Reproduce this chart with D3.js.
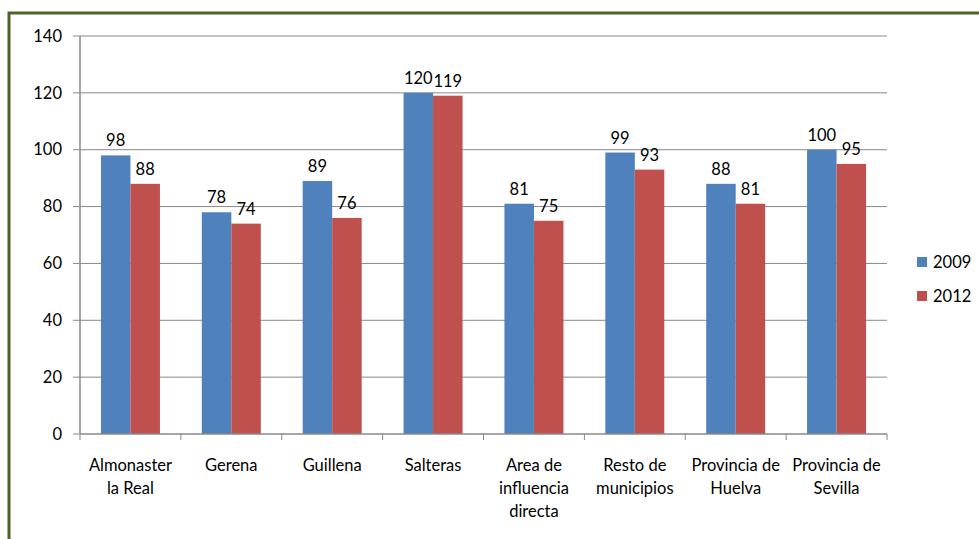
<!DOCTYPE html>
<html>
<head>
<meta charset="utf-8">
<script src="https://cdn.jsdelivr.net/npm/d3@7"></script>
<style>
  body { margin: 0; background: #fff; }
  svg { display: block; font-family: Lato, "Open Sans", sans-serif; }
</style>
</head>
<body>
<svg id="chart" width="979" height="539"></svg>
<script>
const categories = [
  ["Almonaster", "la Real"],
  ["Gerena"],
  ["Guillena"],
  ["Salteras"],
  ["Area de", "influencia", "directa"],
  ["Resto de", "municipios"],
  ["Provincia de", "Huelva"],
  ["Provincia de", "Sevilla"]
];
const series = ["2009", "2012"];
const values2009 = [98, 78, 89, 120, 81, 99, 88, 100];
const values2012 = [88, 74, 76, 119, 75, 93, 81, 95];
const yTicks = [0, 20, 40, 60, 80, 100, 120, 140];
const colors = ["#4F81BD", "#C0504D"];

const svg = d3.select("#chart");
const margin = {left: 80, right: 92, top: 36, bottom: 105};
const w = 979 - margin.left - margin.right;
const h = 539 - margin.top - margin.bottom;
const fs = 16.5;

// frame
svg.append("rect")
  .attr("x", 9).attr("y", 13)
  .attr("width", 985).attr("height", 540)
  .attr("fill", "none").attr("stroke", "#4F6228").attr("stroke-width", 3);

const g = svg.append("g").attr("transform", `translate(${margin.left},${margin.top})`);

const x = d3.scaleBand().domain(d3.range(categories.length)).range([0, w]);
const x1 = d3.scaleBand().domain(series).range([0, x.bandwidth()]).paddingInner(0).paddingOuter(0.71);
const y = d3.scaleLinear().domain([0, 140]).range([h, 0]);

// grid
g.selectAll(".grid").data(yTicks.slice(1)).join("line")
  .attr("x1", 0).attr("x2", w)
  .attr("y1", d => y(d)).attr("y2", d => y(d))
  .attr("stroke", "#888").attr("stroke-width", 1);

// y axis
g.append("line").attr("x1", 0).attr("x2", 0).attr("y1", 0).attr("y2", h)
  .attr("stroke", "#888").attr("stroke-width", 1.5);
g.selectAll(".ytick").data(yTicks).join("line")
  .attr("x1", -7).attr("x2", 0)
  .attr("y1", d => y(d)).attr("y2", d => y(d))
  .attr("stroke", "#888");
g.selectAll(".ylab").data(yTicks).join("text")
  .attr("x", -18).attr("y", d => y(d)).attr("dy", "0.35em")
  .attr("text-anchor", "end").attr("font-size", fs).attr("fill", "#000")
  .text(d => d);

// bars
const data = categories.map((c, i) => ({i, vals: [values2009[i], values2012[i]]}));
const grp = g.selectAll(".cat").data(data).join("g")
  .attr("transform", d => `translate(${x(d.i)},0)`);
grp.selectAll("rect").data(d => d.vals.map((v, k) => ({v, k}))).join("rect")
  .attr("x", d => x1(series[d.k]))
  .attr("width", x1.bandwidth())
  .attr("y", d => y(d.v))
  .attr("height", d => h - y(d.v))
  .attr("fill", d => colors[d.k]);
grp.selectAll(".val").data(d => d.vals.map((v, k) => ({v, k}))).join("text")
  .attr("x", d => x1(series[d.k]) + x1.bandwidth() / 2)
  .attr("y", d => y(d.v) - 9)
  .attr("text-anchor", "middle").attr("font-size", fs).attr("fill", "#000")
  .text(d => d.v);

// x axis
g.append("line").attr("x1", 0).attr("x2", w).attr("y1", h).attr("y2", h)
  .attr("stroke", "#888").attr("stroke-width", 1.5);
g.selectAll(".xtick").data(d3.range(categories.length + 1)).join("line")
  .attr("x1", d => d * x.bandwidth()).attr("x2", d => d * x.bandwidth())
  .attr("y1", h).attr("y2", h + 6)
  .attr("stroke", "#888");
const xl = g.selectAll(".xlab").data(categories).join("text")
  .attr("text-anchor", "middle").attr("font-size", fs).attr("fill", "#000")
  .attr("transform", (d, i) => `translate(${x(i) + x.bandwidth() / 2},${h + 37})`);
xl.selectAll("tspan").data(d => d).join("tspan")
  .attr("x", 0).attr("dy", (d, k) => k === 0 ? 0 : 23)
  .text(d => d);

// legend
const lg = svg.append("g").attr("transform", "translate(917,257)");
series.forEach((s, k) => {
  lg.append("rect").attr("x", 0).attr("y", k * 34).attr("width", 10).attr("height", 10).attr("fill", colors[k]);
  lg.append("text").attr("x", 16).attr("y", k * 34 + 5).attr("dy", "0.35em")
    .attr("font-size", fs).attr("fill", "#000").text(s);
});
</script>
</body>
</html>
